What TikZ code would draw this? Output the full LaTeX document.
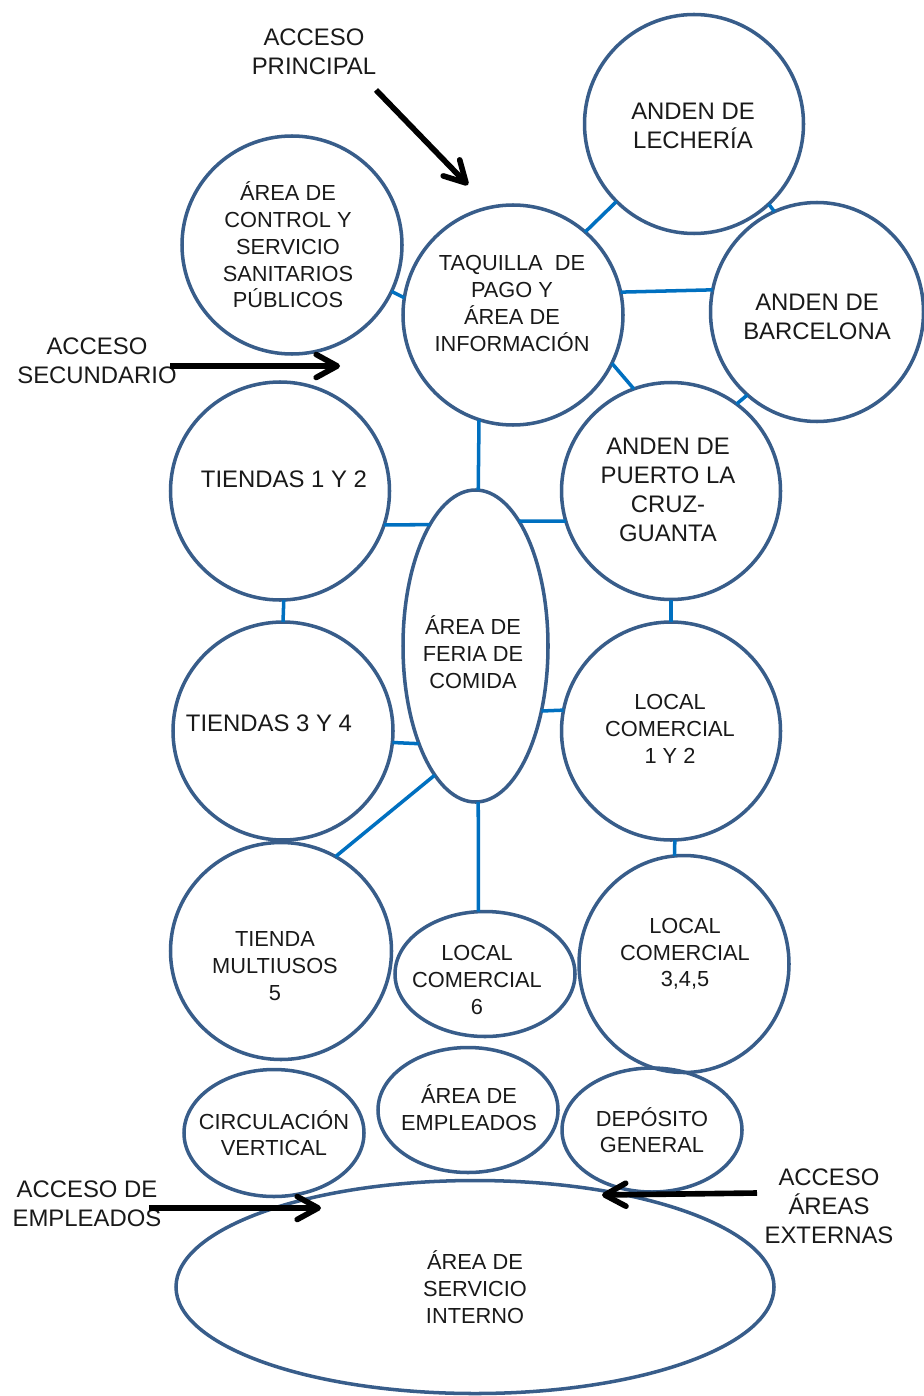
\documentclass[tikz,border=0pt]{standalone}
\usepackage{fontspec}
\setmainfont{Liberation Sans}
\usetikzlibrary{shapes.geometric,arrows.meta,positioning}
\definecolor{borde}{RGB}{56,93,138}
\definecolor{azulenlace}{RGB}{0,112,192}

\begin{document}
\begin{tikzpicture}
    [area/.style={
      ellipse,
      draw=borde,
      line width=2pt,
      inner sep=0pt,
      outer sep=0pt
    },
    texto/.style={
      align=center,
      text=black!90,
      font=\fontsize{12.4}{15.2}\selectfont
    },
    texto1/.style={
      align=center,
      text=black!90,
      font=\fontsize{13.6}{16.5}\selectfont
    },
    linea/.style={
      draw=azulenlace,
      line width=2pt
    },
    acceso/.style={
      draw=black,
      line width=3.2pt,
      -{Straight Barb[length=4.2mm,width=4.6mm,round]}
    }
  ]
    \useasboundingbox (0,0) rectangle (18.48,-27.92);
    \path (5.84,-4.90) node[area, minimum width=4.40cm, minimum height=4.36cm] (ctrl) {}
          (10.26,-6.30) node[area, minimum width=4.40cm, minimum height=4.40cm] (taq) {}
          (13.88,-2.48) node[area, minimum width=4.38cm, minimum height=4.38cm] (lech) {}
          (16.34,-6.24) node[area, minimum width=4.26cm, minimum height=4.38cm] (barc) {}
          (13.42,-9.82) node[area, minimum width=4.38cm, minimum height=4.34cm] (puerto) {}
          (5.60,-9.82) node[area, minimum width=4.38cm, minimum height=4.36cm] (t12) {}
          (9.51,-12.92) node[area, minimum width=2.90cm, minimum height=6.24cm] (feria) {}
          (5.66,-14.62) node[area, minimum width=4.40cm, minimum height=4.36cm] (t34) {}
          (13.42,-14.62) node[area, minimum width=4.38cm, minimum height=4.36cm] (local12) {}
          (5.62,-19.02) node[area, minimum width=4.42cm, minimum height=4.34cm] (multi) {}
          (9.70,-19.48) node[area, minimum width=3.60cm, minimum height=2.50cm] (local6) {}
          (13.68,-19.28) node[area, minimum width=4.20cm, minimum height=4.34cm] (local345) {}
          (5.48,-22.66) node[area, minimum width=3.60cm, minimum height=2.54cm] (circ) {}
          (9.36,-22.20) node[area, minimum width=3.60cm, minimum height=2.50cm] (empl) {}
          (13.04,-22.60) node[area, minimum width=3.60cm, minimum height=2.48cm] (depo) {}
          (9.50,-25.74) node[area, minimum width=11.96cm, minimum height=4.26cm] (serv) {};
    \draw (5.76,-4.90) node[texto] (Tctrl) {ÁREA DE\\CONTROL Y\\SERVICIO\\SANITARIOS\\PÚBLICOS};
    \draw (10.24,-6.07) node[texto] (Ttaq) {TAQUILLA~ DE\\PAGO Y\\ÁREA DE\\INFORMACIÓN};
    \draw (13.86,-2.52) node[texto1] (Tlech) {ANDEN DE\\LECHERÍA};
    \draw (16.34,-6.34) node[texto1] (Tbarc) {ANDEN DE\\BARCELONA};
    \draw (13.36,-9.80) node[texto1] (Tpuerto) {ANDEN DE\\PUERTO LA\\CRUZ-\\GUANTA};
    \draw (5.68,-9.58) node[texto1] (Tt12) {TIENDAS 1 Y 2};
    \draw (9.46,-13.04) node[texto] (Tferia) {ÁREA DE\\FERIA DE\\COMIDA};
    \draw (5.38,-14.46) node[texto1] (Tt34) {TIENDAS 3 Y 4};
    \draw (13.40,-14.58) node[texto] (Tlocal12) {LOCAL\\COMERCIAL\\1 Y 2};
    \draw (5.50,-19.32) node[texto] (Tmulti) {TIENDA\\MULTIUSOS\\5};
    \draw (9.54,-19.60) node[texto] (Tlocal6) {LOCAL\\COMERCIAL\\6};
    \draw (13.70,-19.08) node[texto] (Tlocal345) {LOCAL\\COMERCIAL\\3,4,5};
    \draw (5.48,-22.66) node[texto] (Tcirc) {CIRCULACIÓN\\VERTICAL};
    \draw (9.38,-22.16) node[texto] (Templ) {ÁREA DE\\EMPLEADOS};
    \draw (13.04,-22.60) node[texto] (Tdepo) {DEPÓSITO\\GENERAL};
    \draw (9.50,-25.74) node[texto] (Tserv) {ÁREA DE\\SERVICIO\\INTERNO};
    \draw (6.28,-1.03) node[texto1] (AP) {ACCESO\\PRINCIPAL};
    \draw (1.94,-7.22) node[texto1] (AS) {ACCESO\\SECUNDARIO};
    \draw (1.74,-24.08) node[texto1] (AE) {ACCESO DE\\EMPLEADOS};
    \draw (16.58,-24.13) node[texto1] (AX) {ACCESO\\ÁREAS\\EXTERNAS};
    \draw[linea] (ctrl.-25) -- (taq.171);
    \draw[linea] (taq.49) -- (lech.-135);
    \draw[linea] (lech.-47) -- (barc.113);
    \draw[linea] (taq.12.6) -- (barc.168.6);
    \draw[linea] (taq.-26) -- (puerto.110);
    \draw[linea] (barc.-130) -- (puerto.53);
    \draw[linea] (taq.-108) -- (feria.89);
    \draw[linea] (t12.-18) -- ([shift={(-0.912,2.426)}]feria.center);
    \draw[linea] ([shift={(0.868,2.50)}]feria.center) -- (puerto.-164);
    \draw[linea] (t12.-88) -- (t34.90);
    \draw[linea] (puerto.south) -- (local12.north);
    \draw[linea] ([shift={(1.318,-1.30)}]feria.center) -- (local12.169.4);
    \draw[linea] (t34.-6.7) -- ([shift={(-1.130,-1.954)}]feria.center);
    \draw[linea] ([shift={(-0.812,-2.58)}]feria.center) -- (multi.60.6);
    \draw[linea] (feria.-89) -- (local6.96);
    \draw[linea] (local12.-88) -- (local345.95);
    \coordinate (ap1) at (7.52,-1.80);
    \coordinate (ap2) at (9.36,-3.70);
    \coordinate (as1) at (3.40,-7.32);
    \coordinate (as2) at (6.80,-7.32);
    \coordinate (ae1) at (2.98,-24.16);
    \coordinate (ae2) at (6.42,-24.16);
    \coordinate (ax1) at (15.14,-23.86);
    \coordinate (ax2) at (12.04,-23.90);
    \draw[acceso] (ap1) -- (ap2);
    \draw[acceso] (as1) -- (as2);
    \draw[acceso] (ae1) -- (ae2);
    \draw[acceso] (ax1) -- (ax2);
\end{tikzpicture}
\end{document}
